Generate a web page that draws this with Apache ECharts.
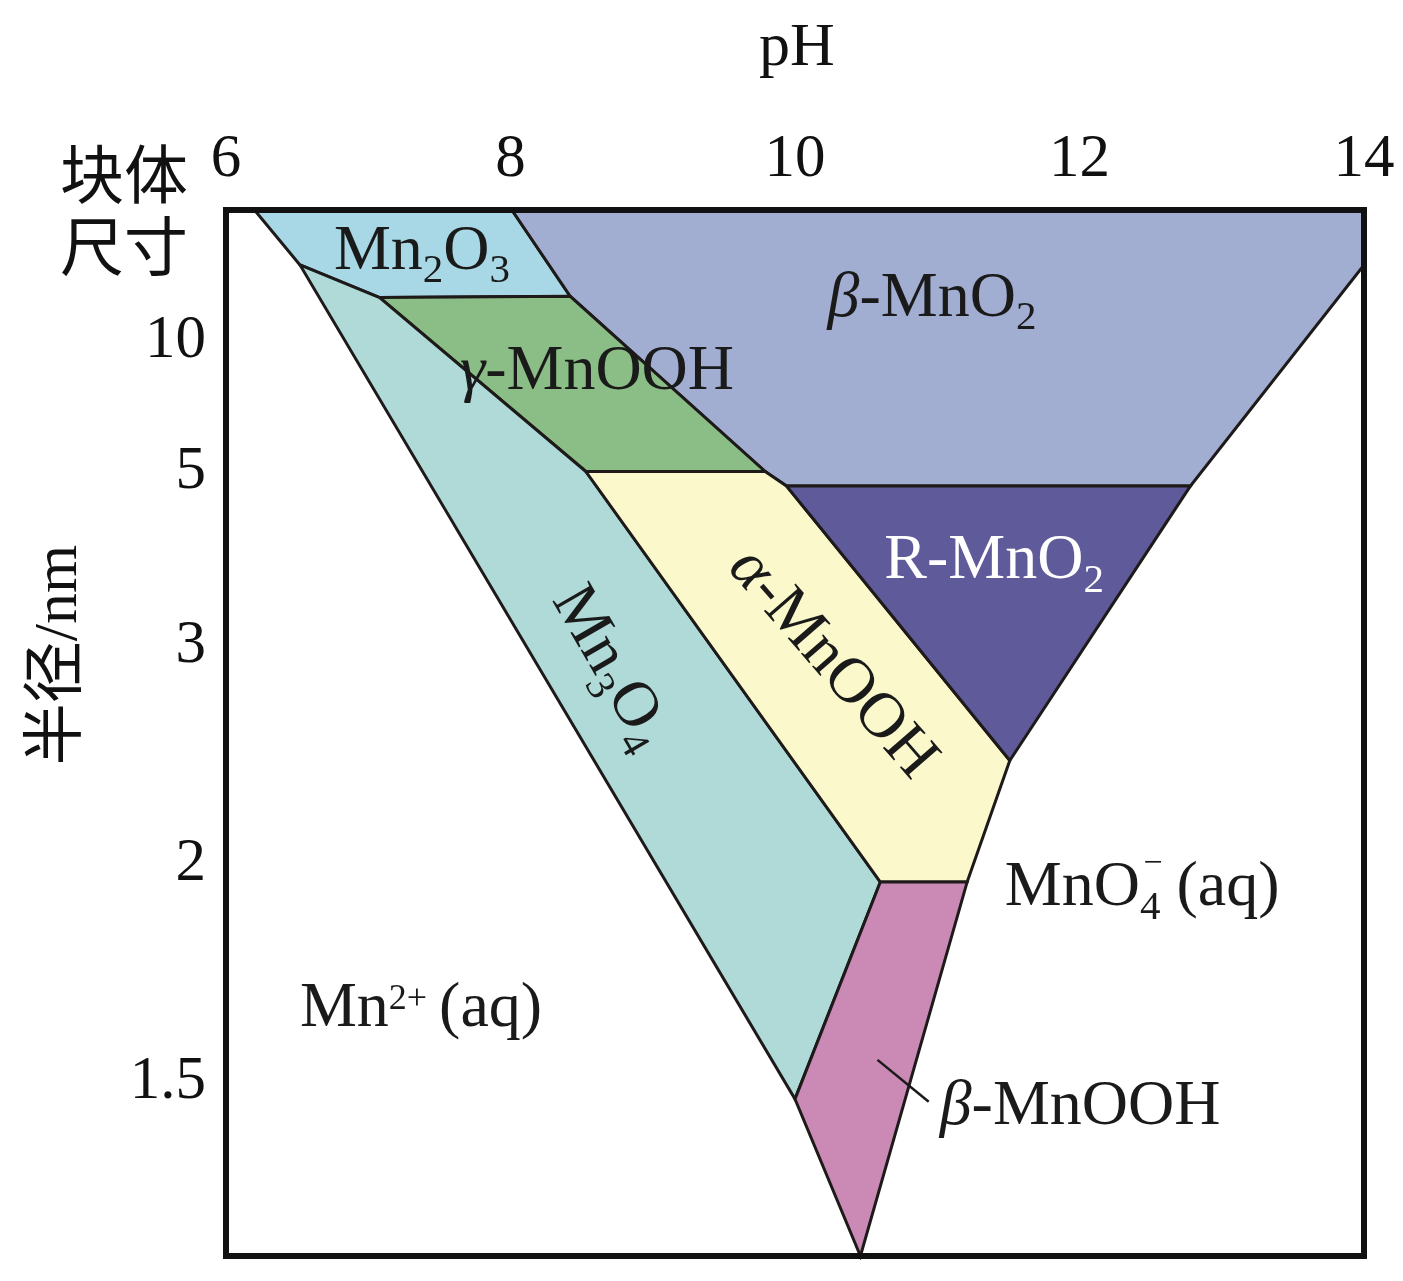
<!DOCTYPE html>
<html><head><meta charset="utf-8">
<script src="https://cdn.jsdelivr.net/npm/echarts@6/dist/echarts.min.js"></script>
<style>html,body{margin:0;padding:0;background:#fff}#chart{width:1403px;height:1281px}</style>
</head><body><div id="chart"></div>
<script>
// ---------- data ----------
// pH tick labels (top axis)
const phTicks = [6, 8, 10, 12, 14];
// radius tick labels in nm (axis is linear in 1/radius); Infinity = bulk size
const radiusTicks = [Infinity, 10, 5, 3, 2, 1.5];
const bulkLabel = ['块体', '尺寸'];

// phase regions, vertices as [pH, 1/radius (1/nm)]
const regionNames = ['Mn2O3', 'β-MnO2', 'γ-MnOOH', 'Mn3O4', 'α-MnOOH', 'R-MnO2', 'β-MnOOH'];
const mn2o3      = [[6.20, 0], [8.01, 0], [8.42, 0.066], [7.08, 0.067], [6.52, 0.042]];
const betaMnO2   = [[8.01, 0], [14, 0], [14, 0.042], [12.78, 0.211], [9.94, 0.211], [9.79, 0.200], [8.42, 0.066]];
const gammaMnOOH = [[7.08, 0.067], [8.42, 0.066], [9.79, 0.200], [8.53, 0.200]];
const mn3o4      = [[6.52, 0.042], [7.08, 0.067], [8.53, 0.200], [10.60, 0.514], [10.00, 0.680]];
const alphaMnOOH = [[8.53, 0.200], [9.79, 0.200], [9.94, 0.211], [11.51, 0.421], [11.21, 0.514], [10.60, 0.514]];
const rMnO2      = [[9.94, 0.211], [12.78, 0.211], [11.51, 0.421]];
const betaMnOOH  = [[10.60, 0.514], [11.21, 0.514], [10.46, 0.8], [10.00, 0.680]];
const regions = [mn2o3, betaMnO2, gammaMnOOH, mn3o4, alphaMnOOH, rMnO2, betaMnOOH];

// region labels (rich text) and their anchors [pH, 1/radius]
const labelTexts   = ['Mn{s|2}O{s|3}', '{i|β}-MnO{s|2}', '{i|γ}-MnOOH', 'R-MnO{s|2}', '{i|α}-MnOOH', 'Mn{s|3}O{s|4}', 'Mn{p|2+}(aq)', '{i|β}-MnOOH'];
const labelAnchors = [[7.378, 0.032], [10.963, 0.068], [8.608, 0.1244], [11.40, 0.2687], [10.26, 0.347], [8.70, 0.350], [7.371, 0.611], [12.004, 0.686]];
const mno4Anchor = [12.425, 0.519];
const leaderLine = [[10.58, 0.650], [10.94, 0.682]];

// ---------- styles ----------
const regionColors = ['#a8d8e6', '#a1add1', '#8bbe86', '#afdad8', '#fbf8cc', '#5f5a99', '#cb89b5'];
const labelRotationDeg = [0, 0, 0, 0, -49, -60, 0, 0];
const labelColors = ['#1a1a1a', '#1a1a1a', '#1a1a1a', '#ffffff', '#1a1a1a', '#1a1a1a', '#1a1a1a', '#1a1a1a'];
const SERIF = '"Liberation Serif", "Times New Roman", serif';
const INK = '#1a1a1a';
const FS = 64;

function makeRich(fill) {
  return {
    s: { fontSize: 41, fontFamily: SERIF, fill: fill, lineHeight: 44, verticalAlign: 'bottom' },
    p: { fontSize: 36, fontFamily: SERIF, fill: fill, verticalAlign: 'top', padding: [13, 12, 0, 0] },
    i: { fontSize: FS, fontFamily: SERIF, fontStyle: 'italic', fill: fill, lineHeight: 80 }
  };
}
function textEl(x, y, text, fill, align, rot) {
  return {
    type: 'text', x: x, y: y, rotation: (rot || 0) * Math.PI / 180,
    style: { text: text, fontSize: FS, fontFamily: SERIF, fill: fill, align: align,
             verticalAlign: 'middle', lineHeight: 80, rich: makeRich(fill) }
  };
}

const frameLine = { show: true, onZero: false, lineStyle: { color: '#111', width: 6, cap: 'square' } };

const chart = echarts.init(document.getElementById('chart'));
chart.setOption({
  animation: false,
  backgroundColor: '#fff',
  grid: { left: 226, right: 39, top: 210, bottom: 25, containLabel: false, outerBoundsMode: 'none' },
  xAxis: [
    { type: 'value', position: 'top', min: 6, max: 14, interval: 2, z: 10,
      axisLine: frameLine, axisTick: { show: false }, splitLine: { show: false },
      axisLabel: { customValues: phTicks, fontSize: 61, fontFamily: SERIF, color: '#111', margin: 20 } },
    { type: 'value', position: 'bottom', min: 6, max: 14, interval: 2, z: 10,
      axisLine: frameLine, axisTick: { show: false }, splitLine: { show: false }, axisLabel: { show: false } }
  ],
  yAxis: [
    { type: 'value', inverse: true, min: 0, max: 0.8, z: 10,
      axisLine: frameLine, axisTick: { show: false }, splitLine: { show: false },
      axisLabel: {
        customValues: radiusTicks.map(r => 1 / r),
        fontSize: 61, fontFamily: SERIF, color: '#111', margin: 20,
        formatter: function (v) {
          for (let k = 0; k < radiusTicks.length; k++) {
            if (Math.abs(1 / radiusTicks[k] - v) < 1e-6) {
              return radiusTicks[k] === Infinity ? '{c|' + bulkLabel[0] + '}\n{c|' + bulkLabel[1] + '}' : String(radiusTicks[k]);
            }
          }
          return '';
        },
        rich: { c: { fontFamily: '"Noto Sans CJK SC"', fontSize: 64, lineHeight: 72, color: '#111', padding: [0, 18, 0, 0] } }
      } },
    { type: 'value', position: 'right', inverse: true, min: 0, max: 0.8, z: 10,
      axisLine: frameLine, axisTick: { show: false }, splitLine: { show: false }, axisLabel: { show: false } }
  ],
  graphic: [
    { type: 'text', x: 797, y: 49, style: { text: 'pH', fontSize: 62, fontFamily: SERIF, fill: '#111', align: 'center', verticalAlign: 'middle' } },
    { type: 'text', x: 60, y: 655, rotation: Math.PI / 2,
      style: { text: '半径/nm', fontSize: 62, fontFamily: '"Liberation Serif", "Noto Sans CJK SC"', fill: '#111', align: 'center', verticalAlign: 'middle' } }
  ],
  series: [
    { type: 'custom', name: 'regions', z: 2, silent: true,
      data: regionNames.map((n, i) => ({ name: n, value: [i] })),
      renderItem: function (params, api) {
        const pts = regions[params.dataIndex].map(p => api.coord(p));
        return { type: 'polygon', shape: { points: pts },
                 style: { fill: regionColors[params.dataIndex], stroke: '#1e1a1a', lineWidth: 3, lineJoin: 'miter' } };
      } },
    { type: 'custom', name: 'labels', z: 3, silent: true,
      data: labelTexts.map((t, i) => [i]),
      renderItem: function (params, api) {
        const i = params.dataIndex;
        const c = api.coord(labelAnchors[i]);
        const children = [textEl(c[0], c[1], labelTexts[i], labelColors[i], 'center', labelRotationDeg[i])];
        if (i === 0) {
          // MnO4^- (aq) with stacked sub/superscript
          const m = api.coord(mno4Anchor);
          children.push(textEl(m[0], m[1], 'MnO', INK, 'right', 0));
          children.push(textEl(m[0], m[1], '{s|4} (aq)', INK, 'left', 0));
          children.push({ type: 'text', x: m[0] + 13, y: m[1] - 25,
            style: { text: '−', fontSize: 34, fontFamily: SERIF, fill: INK, align: 'center', verticalAlign: 'middle' } });
          // leader line for beta-MnOOH
          const a = api.coord(leaderLine[0]), b = api.coord(leaderLine[1]);
          children.push({ type: 'line', shape: { x1: a[0], y1: a[1], x2: b[0], y2: b[1] }, style: { stroke: INK, lineWidth: 2.5 } });
        }
        return { type: 'group', children: children };
      } }
  ]
});
</script></body></html>
